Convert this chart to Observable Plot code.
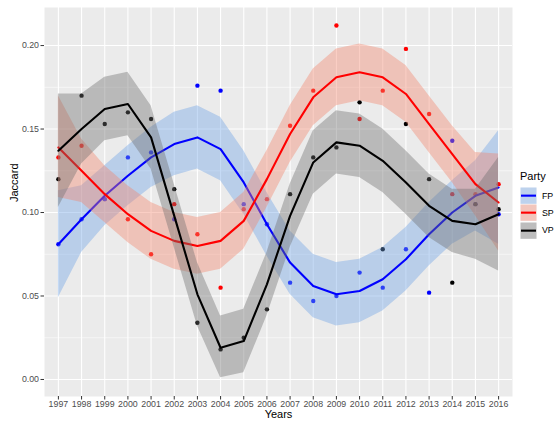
<!DOCTYPE html>
<html>
<head>
<meta charset="utf-8">
<script src="https://cdn.jsdelivr.net/npm/d3@7"></script>
<script src="https://cdn.jsdelivr.net/npm/@observablehq/plot@0.6"></script>
<style>
  body { margin: 0; background: white; }
  #wrap { position: relative; width: 560px; height: 421px; font-family: "Liberation Sans", Arial, sans-serif; }
  #legend { position: absolute; left: 520px; top: 170px; }
  #legend .title { font-size: 11px; color: #000; margin-bottom: 5px; }
  #legend .row { display: flex; align-items: center; height: 17.3px; }
  #legend .lab { font-size: 8.8px; color: #000; margin-left: 5px; }
</style>
</head>
<body>
<div id="wrap"></div>
<script>
const years = [1997,1998,1999,2000,2001,2002,2003,2004,2005,2006,2007,2008,2009,2010,2011,2012,2013,2014,2015,2016];
const parties = ["FP","SP","VP"];
const lineColors = {FP: "#0000ff", SP: "#ff0000", VP: "#000000"};
const bandColors = {FP: "#6ea3e6", SP: "#f2846c", VP: "#6e6e6e"};

// observed points
const fpPoints = [0.081,0.096,0.108,0.133,0.136,0.096,0.176,0.173,0.105,0.093,0.058,0.047,0.050,0.064,0.055,0.078,0.052,0.143,0.105,0.099];
const spPoints = [0.133,0.140,0.108,0.096,0.075,0.105,0.087,0.055,0.102,0.108,0.152,0.173,0.212,0.156,0.173,0.198,0.159,0.111,0.111,0.117];
const vpPoints = [0.120,0.170,0.153,0.160,0.156,0.114,0.034,0.018,0.025,0.042,0.111,0.133,0.139,0.166,0.078,0.153,0.120,0.058,0.105,0.102];

// smoothed fits and confidence bands
const fpFit = [0.081,0.096,0.110,0.122,0.133,0.141,0.145,0.138,0.118,0.093,0.070,0.056,0.051,0.053,0.060,0.072,0.087,0.100,0.110,0.115];
const fpLo  = [0.049,0.076,0.092,0.104,0.115,0.122,0.126,0.119,0.099,0.074,0.051,0.037,0.032,0.034,0.041,0.053,0.068,0.081,0.089,0.081];
const fpHi  = [0.113,0.116,0.128,0.140,0.151,0.160,0.164,0.157,0.137,0.112,0.089,0.075,0.070,0.072,0.079,0.091,0.106,0.119,0.131,0.149];

const spFit = [0.139,0.125,0.111,0.099,0.089,0.083,0.080,0.083,0.095,0.120,0.147,0.169,0.181,0.184,0.181,0.171,0.153,0.135,0.117,0.106];
const spLo  = [0.109,0.106,0.094,0.082,0.072,0.066,0.063,0.066,0.078,0.103,0.130,0.152,0.164,0.167,0.164,0.154,0.136,0.118,0.098,0.077];
const spHi  = [0.170,0.144,0.128,0.116,0.106,0.100,0.097,0.100,0.112,0.137,0.164,0.186,0.198,0.201,0.198,0.188,0.170,0.152,0.136,0.135];

const vpFit = [0.137,0.150,0.162,0.165,0.145,0.098,0.051,0.019,0.023,0.057,0.098,0.130,0.142,0.140,0.131,0.118,0.104,0.095,0.093,0.099];
const vpLo  = [0.103,0.129,0.143,0.146,0.126,0.079,0.032,0.001,0.004,0.038,0.079,0.111,0.123,0.121,0.112,0.099,0.085,0.076,0.072,0.065];
const vpHi  = [0.171,0.171,0.181,0.184,0.164,0.117,0.070,0.038,0.042,0.076,0.117,0.149,0.161,0.159,0.150,0.137,0.123,0.114,0.114,0.133];

const yTicks = [0.00,0.05,0.10,0.15,0.20];
const yMinor = [0.025,0.075,0.125,0.175];

const pts = {FP: fpPoints, SP: spPoints, VP: vpPoints};
const fits = {FP: [fpFit, fpLo, fpHi], SP: [spFit, spLo, spHi], VP: [vpFit, vpLo, vpHi]};

// points drawn in this order so the hidden ones stay hidden
const pointOrder = ["SP","FP","VP"];
const pointData = pointOrder.flatMap(p => years.map((yr, i) => ({party: p, year: yr, value: pts[p][i]})));

const smoothMarks = parties.flatMap(p => {
  const [f, lo, hi] = fits[p];
  const data = years.map((yr, i) => ({year: yr, fit: f[i], lo: lo[i], hi: hi[i]}));
  return [
    Plot.areaY(data, {x: "year", y1: "lo", y2: "hi", fill: bandColors[p], fillOpacity: 0.4}),
    Plot.line(data, {x: "year", y: "fit", stroke: lineColors[p], strokeWidth: 2.1})
  ];
});

const chart = Plot.plot({
  width: 560,
  height: 421,
  marginLeft: 44,
  marginRight: 48,
  marginTop: 7,
  marginBottom: 25,
  style: {fontFamily: "'Liberation Sans', Arial, sans-serif", background: "white"},
  x: {domain: [1996.4, 2016.6]},
  y: {domain: [-0.0102, 0.2228]},
  marks: [
    Plot.frame({fill: "#ebebeb", stroke: null}),
    Plot.ruleY(yMinor, {stroke: "white", strokeWidth: 0.55}),
    Plot.ruleY(yTicks, {stroke: "white", strokeWidth: 1.1}),
    Plot.ruleX(years, {stroke: "white", strokeWidth: 1.1}),
    Plot.dot(pointData, {x: "year", y: "value", fill: d => lineColors[d.party], r: 2.2, stroke: null}),
    ...smoothMarks,
    Plot.axisX(years, {tickFormat: d => String(d), tickSize: 3.5, tickPadding: 0.5, fontSize: 8.8, color: "#4d4d4d", stroke: "#333333", label: null}),
    Plot.axisY(yTicks, {tickFormat: d3.format(".2f"), tickSize: 3.5, tickPadding: 2, fontSize: 8.8, color: "#4d4d4d", stroke: "#333333", label: null}),
    Plot.text(["Years"], {frameAnchor: "bottom", dy: 21, lineAnchor: "bottom", fontSize: 11, fill: "black"}),
    Plot.text(["Jaccard"], {frameAnchor: "left", dx: -30, rotate: -90, fontSize: 11, fill: "black"})
  ]
});

const wrap = document.getElementById("wrap");
wrap.appendChild(chart);

// legend
const legend = document.createElement("div");
legend.id = "legend";
let html = '<div class="title">Party</div>';
for (const p of parties) {
  html += `<div class="row"><svg width="17" height="17.3"><rect x="0" y="0" width="17" height="17.3" fill="#f2f2f2" stroke="white" stroke-width="1"/><rect x="0.5" y="0.5" width="16" height="16.3" fill="${bandColors[p]}" fill-opacity="0.4"/><line x1="1" x2="16" y1="8.65" y2="8.65" stroke="${lineColors[p]}" stroke-width="2.1"/></svg><span class="lab">${p}</span></div>`;
}
legend.innerHTML = html;
wrap.appendChild(legend);
</script>
</body>
</html>
